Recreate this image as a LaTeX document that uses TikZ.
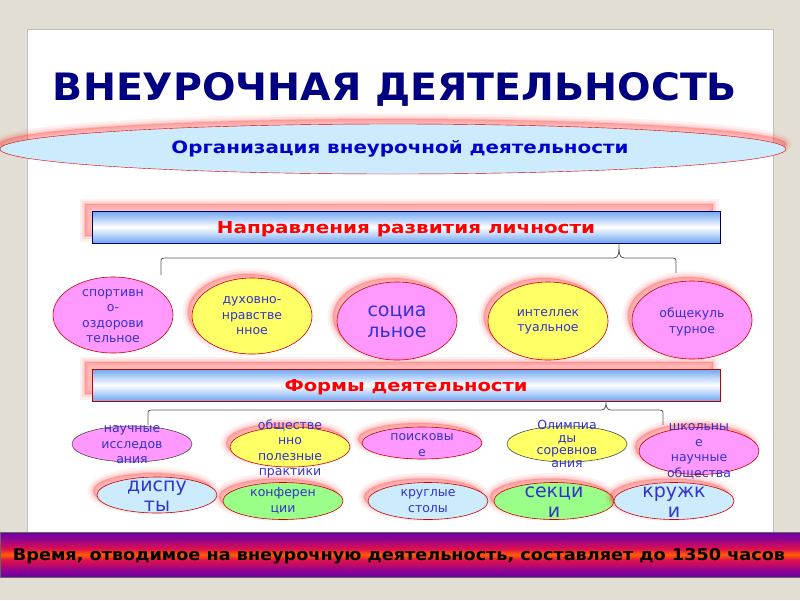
\documentclass[tikz,border=0pt]{standalone}
\usepackage{graphicx}
\usepackage{fontspec}
\setmainfont{DejaVu Sans}
\usetikzlibrary{shapes.geometric}
\definecolor{beige}{HTML}{E3DED3}
\definecolor{navyt}{HTML}{000080}
\definecolor{orgblue}{HTML}{0000CC}
\definecolor{skyc}{HTML}{CCEBFC}
\definecolor{pinkc}{HTML}{FF99FF}
\definecolor{yellc}{HTML}{FFFF66}
\definecolor{greenc}{HTML}{99FF88}
\definecolor{inkc}{HTML}{3333CC}
\definecolor{barblue}{HTML}{6FA6F2}
\definecolor{bandnavy}{HTML}{1A0070}
\definecolor{bandpurp}{HTML}{8000A0}
\definecolor{bandred}{HTML}{E0104A}
\definecolor{bandor}{HTML}{FF6000}
\pgfdeclareverticalshading{timeband}{100bp}{color(0bp)=(bandnavy); color(30bp)=(bandpurp); color(44bp)=(bandred); color(50bp)=(bandor); color(56bp)=(bandred); color(70bp)=(bandpurp); color(100bp)=(bandnavy)}
\begin{document}
\begin{tikzpicture}[x=1pt,y=-1pt,
  glow/.style={preaction={fill=red!80, draw=red!80, line width=11pt, opacity=.07, transform canvas={shift={(#1)}}},
               preaction={fill=red!80, draw=red!80, line width=6pt, opacity=.1, transform canvas={shift={(#1)}}},
               preaction={fill=red!80, draw=red!80, line width=2pt, opacity=.16, transform canvas={shift={(#1)}}}},
  glow/.default={-4pt,4pt},
  ball/.style={ellipse, draw=red!80!black, line width=.6pt, minimum width=120pt, inner sep=0pt},
  small/.style={text=inkc, align=center, inner sep=0pt, font=\fontsize{12.5}{15.5}\selectfont},
  big/.style={text=inkc, align=center, inner sep=0pt, font=\fontsize{19}{20.5}\selectfont},
  bar/.style={rectangle, minimum width=628pt, minimum height=32pt, inner sep=0pt, top color=barblue, bottom color=barblue, middle color=white, line width=.8pt},
  brace/.style={draw=black!65, line width=.8pt}]
\useasboundingbox (0,0) rectangle (800,600);
\fill[beige] (0,0) rectangle (800,600);
\draw[black!25, fill=white, line width=1pt] (27,29) rectangle (773,537);
\node[text=navyt, anchor=base] (title) at (395,100) {\resizebox{684pt}{28pt}{\bfseries ВНЕУРОЧНАЯ ДЕЯТЕЛЬНОСТЬ}};
\node[ellipse, draw=red!85!black, fill=skyc, minimum width=786pt, minimum height=50pt, glow={0pt,5pt}] (org) at (393,149) {};
\node[text=orgblue, anchor=base] (org-t) at (400,153) {\resizebox{457pt}{13pt}{\bfseries Организация внеурочной деятельности}};
\node[bar, draw=blue!35!black, glow={-7pt,7pt}] (dir) at (406,227) {};
\node[text=red, anchor=base] (dir-t) at (406,233) {\resizebox{378pt}{12pt}{\bfseries Направления развития личности}};
\node[ball, fill=pinkc, minimum height=76pt] (sport) at (113,315) {};
\node[ball, fill=yellc, minimum height=76pt, glow] (moral) at (252,316) {};
\node[ball, fill=pinkc, minimum height=78pt, glow] (social) at (397,321) {};
\node[ball, fill=yellc, minimum height=78pt, glow] (intel) at (548,321) {};
\node[ball, fill=pinkc, minimum height=78pt, glow] (cult) at (692,320) {};
\node[small] (sport-t) at (113,316) {спортивн\\о-\\оздорови\\тельное};
\node[small] (moral-t) at (252,316) {духовно-\\нравстве\\нное};
\node[big] (social-t) at (397,322) {социа\\льное};
\node[small] (intel-t) at (548,322) {интеллек\\туальное};
\node[small] (cult-t) at (692,322) {общекуль\\турное};
\coordinate (dirtip) at ([xshift=213pt]dir.south);
\coordinate (sportend) at (161,275);
\coordinate (cultend) at (676,273);
\draw[brace] (sportend) -- (161,264) .. controls (161,258) .. (167,258) -- (614,258) .. controls (619,258) and (619,252) .. (dirtip) .. controls (619,252) and (619,258) .. (624,258) -- (670,258) .. controls (676,258) .. (676,264) -- (cultend);
\node[bar, draw=red!75!black, glow={-7pt,7pt}] (forms) at (406,385) {};
\node[text=red, anchor=base] (forms-t) at (406,391) {\resizebox{243pt}{12pt}{\bfseries Формы деятельности}};
\node[ball, fill=pinkc, draw=black!70, minimum height=36pt] (science) at (132,444) {};
\node[ball, fill=yellc, minimum height=40pt, glow] (useful) at (290,447) {};
\node[ball, fill=pinkc, minimum height=32pt, glow] (search) at (422,443) {};
\node[ball, fill=yellc, draw=black!70, minimum height=36pt] (olymp) at (567,444) {};
\node[ball, fill=pinkc, minimum height=47pt, glow] (school) at (699,451) {};
\node[small] (science-t) at (132,445) {научные\\исследов\\ания};
\node[small] (useful-t) at (290,449) {обществе\\нно\\полезные\\практики};
\node[small] (search-t) at (422,445) {поисковы\\е};
\node[small, font=\fontsize{12.5}{12.7}\selectfont] (olymp-t) at (567,444) {Олимпиа\\ды\\соревнов\\ания};
\node[small] (school-t) at (699,451.5) {школьны\\е\\научные\\общества};
\coordinate (formstip) at ([xshift=200pt]forms.south);
\coordinate (scienceend) at (148,425);
\coordinate (schoolend) at (663,425);
\draw[brace] (scienceend) -- (148,416) .. controls (148,410) .. (154,410) -- (601,410) .. controls (606,410) and (606,405) .. (formstip) .. controls (606,405) and (606,410) .. (611,410) -- (657,410) .. controls (663,410) .. (663,416) -- (schoolend);
\node[ball, fill=skyc, minimum height=36pt, glow] (debate) at (157,495) {};
\node[ball, fill=greenc, minimum height=37pt, glow] (conf) at (283,501) {};
\node[ball, fill=skyc, minimum height=37pt, glow] (round) at (428,501) {};
\node[ball, fill=greenc, minimum height=37pt, glow] (sect) at (554,501) {};
\node[ball, fill=skyc, minimum height=37pt, glow] (club) at (674,501) {};
\node[big] (debate-t) at (157,496) {диспу\\ты};
\node[small] (conf-t) at (283,501) {конферен\\ции};
\node[small] (round-t) at (428,501) {круглые\\столы};
\node[big] (sect-t) at (554,502) {секци\\и};
\node[big] (club-t) at (674,502) {кружк\\и};
\node[rectangle, minimum width=800pt, minimum height=45pt, inner sep=0pt, shade, shading=timeband, draw=black!60] (time) at (400,554.5) {};
\node[anchor=base] (time-t) at (399,560) {\resizebox{772pt}{12pt}{\bfseries Время, отводимое на внеурочную деятельность, составляет до 1350 часов}};
\end{tikzpicture}
\end{document}
